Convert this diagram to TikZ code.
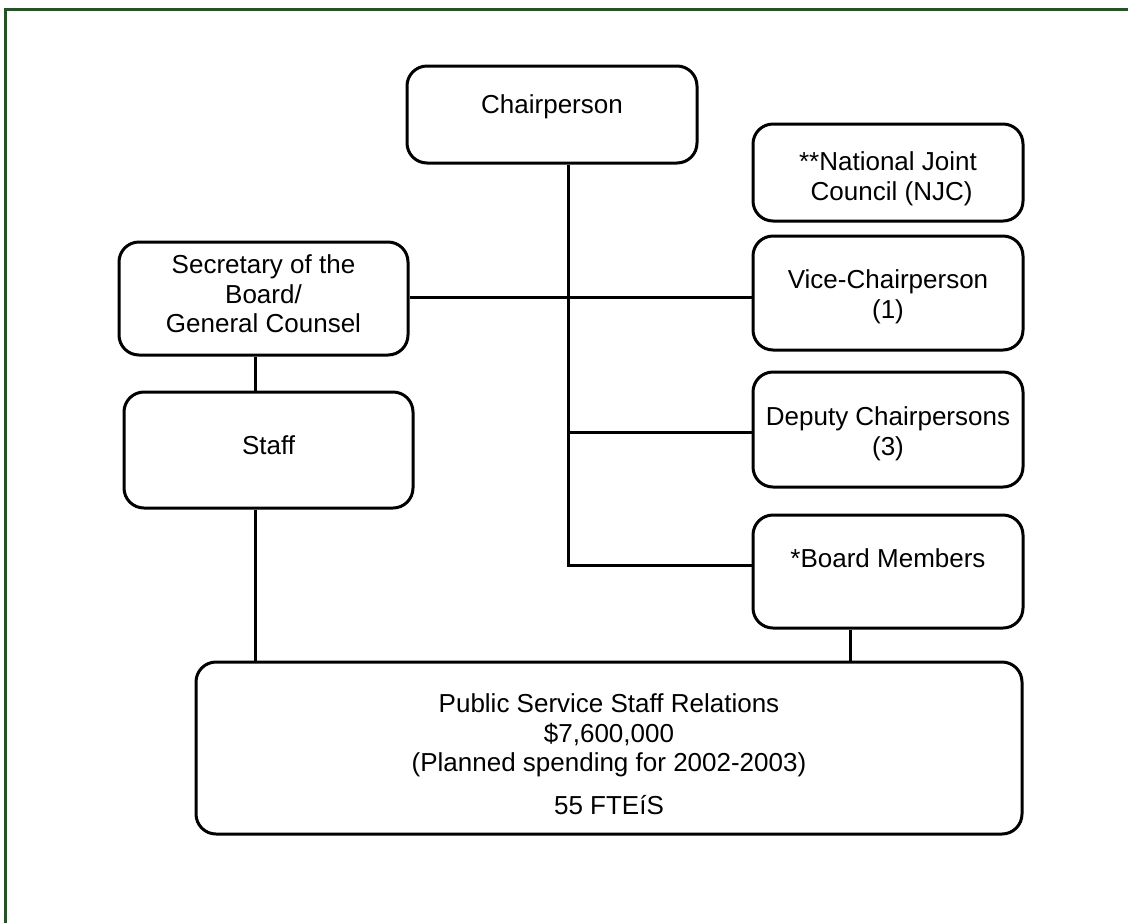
\documentclass[tikz,border=0pt]{standalone}
\usepackage{fontspec}
\setmainfont{Liberation Sans}
\definecolor{framegreen}{RGB}{38,82,38}
\begin{document}
\begin{tikzpicture}[x=1pt,y=-1pt,
  box/.style={draw=black,line width=3pt,rounded corners=20pt,minimum width=#1,inner sep=0pt},
  txt/.style={align=center,inner sep=0pt,font=\fontsize{26}{29.5}\selectfont},
  conn/.style={draw=black,line width=3pt}]
\useasboundingbox (0,0) rectangle (1128,922);
\clip (0,0) rectangle (1128,922);
\fill[white] (0,0) rectangle (1128,922);
\draw[framegreen,line width=3pt] (5,9) rectangle (1160,960);
% boxes
\node[box=290pt,minimum height=97pt] (chair) at (552,114.5) {};
\node[box=270pt,minimum height=97pt] (njc) at (888,172.5) {};
\node[box=270pt,minimum height=114pt] (vice) at (888,293) {};
\node[box=270pt,minimum height=115pt] (dep) at (888,429.5) {};
\node[box=270pt,minimum height=113pt] (board) at (888,571.5) {};
\node[box=289pt,minimum height=113pt] (sec) at (263.5,298.5) {};
\node[box=289pt,minimum height=116pt] (staff) at (268.5,450) {};
\node[box=826pt,minimum height=172pt] (psr) at (609,748) {};
% texts
\node[txt] (chairT) at (552,107) {Chairperson};
\node[txt] (njcT) at (888,179) {**National Joint\\\ Council (NJC)};
\node[txt] (viceT) at (888,297) {Vice-Chairperson\\(1)};
\node[txt] (depT) at (888,434) {Deputy Chairpersons\\(3)};
\node[txt] (boardT) at (888,558) {*Board Members};
\node[txt] (secT) at (263.5,294) {Secretary of the\\Board/\\General Counsel};
\node[txt] (staffT) at (268.5,445) {Staff};
\node[txt] (psrT) at (609,754) {Public Service Staff Relations\\\$7,600,000\\(Planned spending for 2002-2003)\\[13pt]55 FTEíS};
% connectors
\coordinate (trunk) at (568,565);
\coordinate (j1) at (568,297);
\coordinate (j2) at (568,432);
\coordinate (sl) at (255,600);
\coordinate (bl) at (850,640);
\draw[conn] (chair.south -| trunk) -- (trunk) -- (board.west |- trunk);
\draw[conn] (sec.east |- j1) -- (vice.west |- j1);
\draw[conn] (j2) -- (dep.west |- j2);
\draw[conn] (sec.south -| sl) -- (staff.north -| sl);
\draw[conn] (staff.south -| sl) -- (psr.north -| sl);
\draw[conn] (board.south -| bl) -- (psr.north -| bl);
\end{tikzpicture}
\end{document}
